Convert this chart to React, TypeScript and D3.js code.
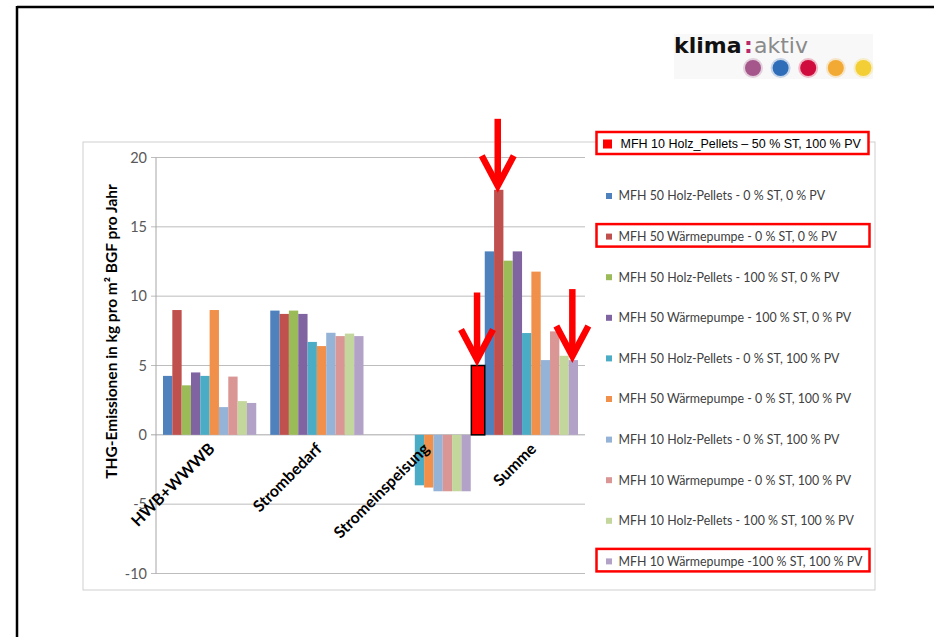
import React from "react";
import * as d3 from "d3";

const categories = ["HWB+WWWB", "Strombedarf", "Stromeinspeisung", "Summe"];

const seriesNames = [
  "MFH 50 Holz-Pellets - 0 % ST, 0 % PV",
  "MFH 50 Wärmepumpe - 0 % ST, 0 % PV",
  "MFH 50 Holz-Pellets - 100 % ST, 0 % PV",
  "MFH 50 Wärmepumpe - 100 % ST, 0 % PV",
  "MFH 50 Holz-Pellets - 0 % ST, 100 % PV",
  "MFH 50 Wärmepumpe - 0 % ST, 100 % PV",
  "MFH 10 Holz-Pellets - 0 % ST, 100 % PV",
  "MFH 10 Wärmepumpe - 0 % ST, 100 % PV",
  "MFH 10 Holz-Pellets - 100 % ST, 100 % PV",
  "MFH 10 Wärmepumpe -100 % ST, 100 % PV",
];

const seriesColors = [
  "#4F81BD", "#C0504D", "#9BBB59", "#8064A2", "#4BACC6",
  "#F0904A", "#95B3D7", "#D99694", "#C3D69B", "#B3A2C7",
];

// values[series] per category
const hwbValues = [4.25, 9.0, 3.57, 4.5, 4.25, 9.0, 2.0, 4.2, 2.43, 2.3];
const strombedarfValues = [8.96, 8.72, 8.96, 8.72, 6.7, 6.4, 7.36, 7.12, 7.3, 7.12];
const stromeinspeisungValues = [0, 0, 0, 0, -3.64, -3.8, -4.07, -4.07, -4.07, -4.07];
const summeValues = [13.23, 17.67, 12.56, 13.23, 7.34, 11.77, 5.39, 7.46, 5.7, 5.39];

const extraSeriesName = "MFH 10 Holz_Pellets – 50 % ST, 100 % PV";
const extraSeriesValue = 5.0;
const extraCategory = "Summe";

const yTicks = [-10, -5, 0, 5, 10, 15, 20];
const yTitle = "THG-Emissionen in kg pro m² BGF pro Jahr";

// arrows point at: [category, series index or -1 for extra bar]
const arrowTargets: [string, number][] = [
  ["Summe", 1],
  ["Summe", -1],
  ["Summe", 9],
];
const highlightedLegend = [1, 9];

const logoColors = ["#a5578c", "#2f6db8", "#cf0c3d", "#f2aa35", "#f3ce35"];

export default function App() {
  const W = 934, H = 637;
  const plotLeft = 156, plotRight = 585, plotTop = 157.5, plotBottom = 573.5;
  const table = categories.map((c, ci) => ({
    cat: c,
    vals: [hwbValues, strombedarfValues, stromeinspeisungValues, summeValues][ci],
  }));

  const y = d3.scaleLinear().domain([-10, 20]).range([plotBottom, plotTop]);
  const x0 = d3.scaleBand<string>().domain(categories).range([plotLeft, plotRight]).padding(0);
  const bw = x0.bandwidth();
  const gap = 14;
  const x1 = d3
    .scaleBand<number>()
    .domain(d3.range(seriesNames.length))
    .range([gap / 2, bw - gap / 2])
    .padding(0);
  const barW = x1.bandwidth();
  const extraW = 13.4;
  const extraX = (x0(extraCategory) as number) + gap / 2 - extraW;

  const font = "Lato, 'Open Sans', sans-serif";

  const arrow = (cx: number, tipY: number, key: number) => {
    const len = 67, arm = 16, armDy = 30;
    return (
      <g key={key} stroke="#ff0000" strokeWidth={6.5} fill="none" strokeLinecap="butt">
        <line x1={cx} y1={tipY - len} x2={cx} y2={tipY - 3} />
        <polyline
          points={`${cx - arm},${tipY - armDy} ${cx},${tipY} ${cx + arm},${tipY - armDy}`}
          strokeLinejoin="miter"
        />
      </g>
    );
  };

  const legendY0 = 196, legendStep = 40.6;

  return (
    <svg
      width={W}
      height={H}
      style={{ position: "absolute", left: 0, top: 0, background: "#fff" }}
      fontFamily={font}
    >
      <rect x={0} y={0} width={W} height={H} fill="#fff" />
      {/* slide frame */}
      <line x1={17} y1={7} x2={W} y2={7} stroke="#000" strokeWidth={2.5} />
      <line x1={17} y1={6} x2={17} y2={H} stroke="#000" strokeWidth={2.5} />

      {/* logo */}
      <rect x={674} y={34} width={199} height={45} fill="#f8f8f8" />
      <text x={674} y={53} fontSize={22} fontFamily="'DejaVu Sans', sans-serif" fontWeight="bold" fill="#111">
        klima
      </text>
      <text x={744} y={53} fontSize={22} fontFamily="'DejaVu Sans', sans-serif" fontWeight="bold" fill="#b8286a">
        :
      </text>
      <text x={754} y={53} fontSize={22} fontFamily="'DejaVu Sans', sans-serif" fill="#8a8a8a">
        aktiv
      </text>
      {logoColors.map((c, i) => (
        <g key={i}>
          <circle cx={753 + i * 27.6} cy={68} r={10} fill={c} opacity={0.25} />
          <circle cx={753 + i * 27.6} cy={68} r={8} fill={c} />
        </g>
      ))}

      {/* chart box */}
      <rect x={83} y={142} width={792} height={448} fill="#fff" stroke="#cfcfcf" strokeWidth={1} />

      {/* gridlines */}
      {yTicks.map((t) => (
        <g key={t}>
          <line
            x1={plotLeft - 5}
            x2={plotRight}
            y1={y(t)}
            y2={y(t)}
            stroke={t === 0 ? "#a6a6a6" : "#bdbdbd"}
            strokeWidth={1}
          />
          <text
            x={plotLeft - 9}
            y={y(t)}
            dy="0.35em"
            textAnchor="end"
            fontSize={14.5}
            fill="#595959"
          >
            {t}
          </text>
        </g>
      ))}
      <line x1={plotLeft} x2={plotLeft} y1={plotTop} y2={plotBottom} stroke="#a6a6a6" />

      {/* bars */}
      {table.map((row) =>
        row.vals.map((v, si) => {
          const bx = (x0(row.cat) as number) + (x1(si) as number);
          const y0 = y(0), yv = y(v);
          return (
            <rect
              key={row.cat + si}
              x={bx}
              y={Math.min(y0, yv)}
              width={barW}
              height={Math.abs(yv - y0)}
              fill={seriesColors[si]}
            />
          );
        })
      )}
      {/* extra highlighted bar */}
      <rect
        x={extraX}
        y={y(extraSeriesValue)}
        width={extraW}
        height={y(0) - y(extraSeriesValue)}
        fill="#ff0000"
        stroke="#000"
        strokeWidth={1.5}
      />

      {/* category labels */}
      {categories.map((c) => {
        const cx = (x0(c) as number) + bw / 2 + 6;
        const cy = y(0) + 15;
        return (
          <text
            key={c}
            transform={`translate(${cx},${cy}) rotate(-45)`}
            textAnchor="end"
            fontSize={16}
            fontWeight="bold"
            fill="#000"
          >
            {c}
          </text>
        );
      })}

      {/* y title */}
      <text
        transform={`translate(${117},${(plotTop + plotBottom) / 2 - 34}) rotate(-90)`}
        textAnchor="middle"
        fontSize={15.5}
        fontWeight="bold"
        fill="#000"
      >
        {yTitle}
      </text>

      {/* legend */}
      <rect x={596.5} y={132} width={272} height={22} fill="#fff" stroke="#ff0000" strokeWidth={2.5} />
      <rect x={603} y={139.5} width={9} height={9} fill="#ff0000" />
      <text x={620.5} y={148} fontSize={12.5} fontFamily="'Liberation Sans', Arial, sans-serif" fill="#000">
        {extraSeriesName}
      </text>
      {seriesNames.map((n, i) => {
        const ly = legendY0 + i * legendStep;
        return (
          <g key={n}>
            {highlightedLegend.includes(i) && (
              <rect
                x={596.5}
                y={ly - 12.5}
                width={273}
                height={22.5}
                fill="none"
                stroke="#ff0000"
                strokeWidth={2.5}
              />
            )}
            <rect x={606} y={ly - 3} width={6} height={6} fill={seriesColors[i]} />
            <text x={618.5} y={ly} dy="0.35em" fontSize={12.4} fill="#404040">
              {n}
            </text>
          </g>
        );
      })}

      {/* arrows */}
      {arrowTargets.map(([c, si], k) => {
        if (si < 0) {
          return arrow(extraX + extraW / 2 - 1, y(extraSeriesValue) - 6, k);
        }
        const vals = table.find((r) => r.cat === c)!.vals;
        const cx = (x0(c) as number) + (x1(si) as number) + barW / 2 - 1;
        return arrow(cx, y(vals[si]) - 4, k);
      })}
    </svg>
  );
}
